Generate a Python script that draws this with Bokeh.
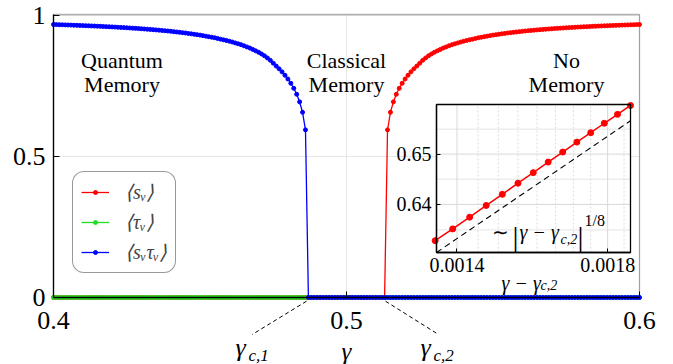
import math
from bokeh.plotting import figure
from bokeh.models import (Label, FixedTicker, Range1d, PrintfTickFormatter, LogScale, LogAxis,
                          BoxAnnotation)
from bokeh.embed import file_html
from bokeh.resources import INLINE

FONT = "Liberation Serif"
RED = "#ff0000"
GREEN = "#22dd22"
BLUE = "#0000ff"

# ---------------- data ----------------
gamma_milli = [
    400, 401, 402, 403, 404, 405, 406, 407, 408, 409, 410, 411, 412, 413, 414, 415, 416, 417, 418, 419,
    420, 421, 422, 423, 424, 425, 426, 427, 428, 429, 430, 431, 432, 433, 434, 435, 436, 437, 438, 439,
    440, 441, 442, 443, 444, 445, 446, 447, 448, 449, 450, 451, 452, 453, 454, 455, 456, 457, 458, 459,
    460, 461, 462, 463, 464, 465, 466, 467, 468, 469, 470, 471, 472, 473, 474, 475, 476, 477, 478, 479,
    480, 481, 482, 483, 484, 485, 486, 487, 488, 489, 490, 491, 492, 493, 494, 495, 496, 497, 498, 499,
    500, 501, 502, 503, 504, 505, 506, 507, 508, 509, 510, 511, 512, 513, 514, 515, 516, 517, 518, 519,
    520, 521, 522, 523, 524, 525, 526, 527, 528, 529, 530, 531, 532, 533, 534, 535, 536, 537, 538, 539,
    540, 541, 542, 543, 544, 545, 546, 547, 548, 549, 550, 551, 552, 553, 554, 555, 556, 557, 558, 559,
    560, 561, 562, 563, 564, 565, 566, 567, 568, 569, 570, 571, 572, 573, 574, 575, 576, 577, 578, 579,
    580, 581, 582, 583, 584, 585, 586, 587, 588, 589, 590, 591, 592, 593, 594, 595, 596, 597, 598, 599,
    600,
]

# <s_v>  (red)
s_v = [
    0, 0, 0, 0, 0, 0, 0, 0, 0, 0,
    0, 0, 0, 0, 0, 0, 0, 0, 0, 0,
    0, 0, 0, 0, 0, 0, 0, 0, 0, 0,
    0, 0, 0, 0, 0, 0, 0, 0, 0, 0,
    0, 0, 0, 0, 0, 0, 0, 0, 0, 0,
    0, 0, 0, 0, 0, 0, 0, 0, 0, 0,
    0, 0, 0, 0, 0, 0, 0, 0, 0, 0,
    0, 0, 0, 0, 0, 0, 0, 0, 0, 0,
    0, 0, 0, 0, 0, 0, 0, 0, 0, 0,
    0, 0, 0, 0, 0, 0, 0, 0, 0, 0,
    0, 0, 0, 0, 0, 0, 0, 0, 0, 0,
    0, 0, 0, 0, 0.5945, 0.6568, 0.6938, 0.7206, 0.7418, 0.7596,
    0.7748, 0.7881, 0.8001, 0.8109, 0.8207, 0.8310, 0.8410, 0.8495, 0.8570, 0.8636,
    0.8696, 0.8746, 0.8796, 0.8846, 0.8886, 0.8926, 0.8966, 0.8997, 0.9028, 0.9059,
    0.9090, 0.9114, 0.9138, 0.9162, 0.9186, 0.9210, 0.9229, 0.9248, 0.9267, 0.9286,
    0.9305, 0.9320, 0.9335, 0.9350, 0.9365, 0.9380, 0.9392, 0.9404, 0.9416, 0.9428,
    0.9440, 0.9450, 0.9460, 0.9470, 0.9480, 0.9490, 0.9498, 0.9506, 0.9514, 0.9522,
    0.9530, 0.9537, 0.9544, 0.9551, 0.9558, 0.9565, 0.9571, 0.9577, 0.9583, 0.9589,
    0.9595, 0.9600, 0.9605, 0.9610, 0.9615, 0.9620, 0.9625, 0.9629, 0.9634, 0.9638,
    0.9643, 0.9647, 0.9651, 0.9655, 0.9659, 0.9663, 0.9666, 0.9670, 0.9673, 0.9677,
    0.9680,
]

# <tau_v>  (green)
tau_v = [
    0, 0, 0, 0, 0, 0, 0, 0, 0, 0,
    0, 0, 0, 0, 0, 0, 0, 0, 0, 0,
    0, 0, 0, 0, 0, 0, 0, 0, 0, 0,
    0, 0, 0, 0, 0, 0, 0, 0, 0, 0,
    0, 0, 0, 0, 0, 0, 0, 0, 0, 0,
    0, 0, 0, 0, 0, 0, 0, 0, 0, 0,
    0, 0, 0, 0, 0, 0, 0, 0, 0, 0,
    0, 0, 0, 0, 0, 0, 0, 0, 0, 0,
    0, 0, 0, 0, 0, 0, 0, 0, 0, 0,
    0, 0, 0, 0, 0, 0, 0, 0, 0, 0,
    0, 0, 0, 0, 0, 0, 0, 0, 0, 0,
    0, 0, 0, 0, 0, 0, 0, 0, 0, 0,
    0, 0, 0, 0, 0, 0, 0, 0, 0, 0,
    0, 0, 0, 0, 0, 0, 0, 0, 0, 0,
    0, 0, 0, 0, 0, 0, 0, 0, 0, 0,
    0, 0, 0, 0, 0, 0, 0, 0, 0, 0,
    0, 0, 0, 0, 0, 0, 0, 0, 0, 0,
    0, 0, 0, 0, 0, 0, 0, 0, 0, 0,
    0, 0, 0, 0, 0, 0, 0, 0, 0, 0,
    0, 0, 0, 0, 0, 0, 0, 0, 0, 0,
    0,
]

# <s_v tau_v>  (blue)
s_v_tau_v = [
    0.9680, 0.9677, 0.9673, 0.9670, 0.9666, 0.9663, 0.9659, 0.9655, 0.9651, 0.9647,
    0.9643, 0.9638, 0.9634, 0.9629, 0.9625, 0.9620, 0.9615, 0.9610, 0.9605, 0.9600,
    0.9595, 0.9589, 0.9583, 0.9577, 0.9571, 0.9565, 0.9558, 0.9551, 0.9544, 0.9537,
    0.9530, 0.9522, 0.9514, 0.9506, 0.9498, 0.9490, 0.9480, 0.9470, 0.9460, 0.9450,
    0.9440, 0.9428, 0.9416, 0.9404, 0.9392, 0.9380, 0.9365, 0.9350, 0.9335, 0.9320,
    0.9305, 0.9286, 0.9267, 0.9248, 0.9229, 0.9210, 0.9186, 0.9162, 0.9138, 0.9114,
    0.9090, 0.9059, 0.9028, 0.8997, 0.8966, 0.8926, 0.8886, 0.8846, 0.8796, 0.8746,
    0.8696, 0.8636, 0.8570, 0.8495, 0.8410, 0.8310, 0.8207, 0.8109, 0.8001, 0.7881,
    0.7748, 0.7596, 0.7418, 0.7206, 0.6938, 0.6568, 0.5945, 0, 0, 0,
    0, 0, 0, 0, 0, 0, 0, 0, 0, 0,
    0, 0, 0, 0, 0, 0, 0, 0, 0, 0,
    0, 0, 0, 0, 0, 0, 0, 0, 0, 0,
    0, 0, 0, 0, 0, 0, 0, 0, 0, 0,
    0, 0, 0, 0, 0, 0, 0, 0, 0, 0,
    0, 0, 0, 0, 0, 0, 0, 0, 0, 0,
    0, 0, 0, 0, 0, 0, 0, 0, 0, 0,
    0, 0, 0, 0, 0, 0, 0, 0, 0, 0,
    0, 0, 0, 0, 0, 0, 0, 0, 0, 0,
    0, 0, 0, 0, 0, 0, 0, 0, 0, 0,
    0, 0, 0, 0, 0, 0, 0, 0, 0, 0,
    0,
]

assert len(s_v) == len(gamma_milli) == len(tau_v) == len(s_v_tau_v)
gamma = [g / 1000 for g in gamma_milli]

series_labels = ["\u27e8s\u1d65\u27e9", "\u27e8\u03c4\u1d65\u27e9", "\u27e8s\u1d65\u03c4\u1d65\u27e9"]

# inset: <s_v> against gamma - gamma_c2 (log-log)
inset_dgamma = [0.00135, 0.00139, 0.00143, 0.00147, 0.00151, 0.00155, 0.00159,
                0.00163, 0.00167, 0.00171, 0.00175, 0.00179, 0.00183, 0.00187]
inset_s_v = [0.6329, 0.6352, 0.6375, 0.6398, 0.6420, 0.6442, 0.6463,
             0.6484, 0.6504, 0.6524, 0.6543, 0.6562, 0.6580, 0.6598]
guide_dgamma = [0.001353, 0.00187]
guide_s_v = [0.6306, 0.6567]

x_ticks = [0.4, 0.5, 0.6]
y_ticks = [0, 0.5, 1]
inset_x_lim = (0.001353, 0.00187)
inset_y_lim = (0.6306, 0.6600)
inset_x_ticks = [0.0014, 0.0018]
inset_x_minor = [0.00145, 0.0015, 0.00155, 0.0016, 0.00165, 0.0017, 0.00175, 0.00185]
inset_y_ticks = [0.64, 0.65]
inset_y_minor = [0.635, 0.645, 0.655]

# ---------------- layout geometry (pixels) ----------------
W, H = 673, 364
X0_PX, PX_PER_X = 53, 2930.0     # gamma = 0.4 sits at x = 53 px
Y0_PX, PX_PER_Y = 297, 282.0     # value 0 sits at y = 297 px
INSET_L, INSET_R, INSET_T, INSET_B = 436, 630, 104, 252


def mx(px):
    return 0.4 + (px - X0_PX) / PX_PER_X


def my(py):
    return (Y0_PX - py) / PX_PER_Y


lx0, lx1 = math.log10(inset_x_lim[0]), math.log10(inset_x_lim[1])
ly0, ly1 = math.log10(inset_y_lim[0]), math.log10(inset_y_lim[1])
kx = (lx1 - lx0) / (INSET_R - INSET_L)
ky = (ly1 - ly0) / (INSET_B - INSET_T)


def ix(px):
    return 10 ** (lx0 + (px - INSET_L) * kx)


def iy(py):
    return 10 ** (ly0 + (INSET_B - py) * ky)


TOP = my(14)
X_LEFT, X_RIGHT = x_ticks[0], x_ticks[-1]

# ---------------- main figure (frame = whole canvas, axes fixed inside) ----------------
p = figure(width=W, height=H, x_range=Range1d(mx(0), mx(W)), y_range=Range1d(my(H), my(0)),
           output_backend="svg", toolbar_location=None, min_border=0)
p.outline_line_color = None
p.grid.visible = False
main_x = p.xaxis[0]
main_y = p.yaxis[0]

# grid lines limited to the data box
p.segment(x0=x_ticks, y0=[0] * len(x_ticks), x1=x_ticks, y1=[TOP] * len(x_ticks),
          line_color="#e6e6e6", line_width=1, level="underlay")
p.segment(x0=[X_LEFT] * len(y_ticks), y0=y_ticks, x1=[X_RIGHT] * len(y_ticks), y1=y_ticks,
          line_color="#e6e6e6", line_width=1, level="underlay")
p.add_layout(BoxAnnotation(left=X_LEFT, right=X_RIGHT, bottom=0, top=TOP, fill_alpha=0,
                           line_color="black", line_width=1.3, level="underlay"))

for vals, color, lab in [(s_v, RED, series_labels[0]), (tau_v, GREEN, series_labels[1]),
                         (s_v_tau_v, BLUE, series_labels[2])]:
    p.line(gamma, vals, line_color=color, line_width=1.3, legend_label=lab)
    p.scatter(gamma, vals, size=4, fill_color=color, line_color=color, legend_label=lab)

main_x.fixed_location = 0
main_y.fixed_location = X_LEFT
main_x.bounds = (X_LEFT, X_RIGHT)
main_y.bounds = (0, TOP)
main_x.ticker = FixedTicker(ticks=x_ticks, minor_ticks=[])
main_y.ticker = FixedTicker(ticks=y_ticks, minor_ticks=[])
main_y.major_label_overrides = {0: "0", 0.5: "0.5", 1: "1"}
for ax in (main_x, main_y):
    ax.major_tick_in = 6
    ax.major_tick_out = 0
    ax.minor_tick_in = 0
    ax.minor_tick_out = 0
    ax.axis_line_width = 1.3
    ax.axis_line_color = "black"
    ax.major_tick_line_color = "black"
    ax.major_label_text_font = FONT
    ax.major_label_text_font_size = "26px"
    ax.major_label_text_color = "black"
main_x.major_label_standoff = 14
main_y.major_label_standoff = 8

lg = p.legend[0]
lg.location = (72, H - 273)
lg.label_text_font = FONT
lg.label_text_font_style = "italic"
lg.label_text_font_size = "20px"
lg.glyph_width = 28
lg.glyph_height = 10
lg.label_height = 23
lg.spacing = 6
lg.padding = 8
lg.margin = 0
lg.label_standoff = 16
lg.border_line_color = "#333333"
lg.border_line_width = 1
lg.background_fill_color = "white"
lg.background_fill_alpha = 1
try:
    lg.border_radius = 12
except Exception:
    pass


def label(x, y, text, size, align="left", style="normal", rx=None, ry=None):
    kw = {}
    if rx:
        kw = dict(x_range_name=rx, y_range_name=ry)
    p.add_layout(Label(x=x, y=y, text=text, text_font=FONT, text_font_size=size,
                       text_align=align, text_baseline="alphabetic",
                       text_font_style=style, text_color="black", **kw))


label(mx(121.5), my(59.5), "Quantum", "22px", "center")
label(mx(121.5), my(83.5), "Memory", "22px", "center")
label(mx(346), my(59.5), "Classical", "22px", "center")
label(mx(346), my(83.5), "Memory", "22px", "center")
label(mx(566), my(59.5), "No", "22px", "center")
label(mx(566), my(83.5), "Memory", "22px", "center")

# critical-point labels below the axis, with dashed pointers
label(mx(346), my(351), "\u03b3", "25px", "center", "italic")
label(mx(235), my(347), "\u03b3", "26px", "left", "italic")
label(mx(248), my(355), "c,1", "17px", "left", "italic")
label(mx(420), my(347), "\u03b3", "26px", "left", "italic")
label(mx(433), my(355), "c,2", "17px", "left", "italic")
pointer_c1 = ([mx(306), mx(251.7)], [my(300.7), my(334)])
pointer_c2 = ([mx(385), mx(438)], [my(300.7), my(334)])
for px_, py_ in (pointer_c1, pointer_c2):
    p.line(px_, py_, line_color="black", line_width=1, line_dash="4 3")

# ---------------- inset (drawn on its own log-log scales) ----------------
p.extra_x_ranges = {"ix": Range1d(ix(0), ix(W))}
p.extra_y_ranges = {"iy": Range1d(iy(H), iy(0))}
p.extra_x_scales = {"ix": LogScale()}
p.extra_y_scales = {"iy": LogScale()}
R = dict(x_range_name="ix", y_range_name="iy")
x0, x1 = inset_x_lim
y0, y1 = inset_y_lim

p.quad(left=[x0], right=[x1], bottom=[y0], top=[y1], fill_color="white", line_color=None, **R)
p.segment(x0=[x0] * len(inset_y_minor), y0=inset_y_minor,
          x1=[x1] * len(inset_y_minor), y1=inset_y_minor, line_color="#e4e4e4", line_width=1, **R)
p.segment(x0=[x0] * len(inset_y_ticks), y0=inset_y_ticks,
          x1=[x1] * len(inset_y_ticks), y1=inset_y_ticks, line_color="#d8d8d8", line_width=1, **R)
p.segment(x0=inset_x_minor, y0=[y0] * len(inset_x_minor), x1=inset_x_minor,
          y1=[y1] * len(inset_x_minor), line_color="#dcdcdc", line_width=1, line_dash="2 2", **R)
p.segment(x0=inset_x_ticks, y0=[y0] * len(inset_x_ticks), x1=inset_x_ticks,
          y1=[y1] * len(inset_x_ticks), line_color="#d8d8d8", line_width=1, **R)

p.line(guide_dgamma, guide_s_v, line_color="black", line_width=1.1, line_dash="6 4", **R)
p.line(inset_dgamma, inset_s_v, line_color=RED, line_width=1.5, **R)
p.scatter(inset_dgamma, inset_s_v, size=6, fill_color=RED, line_color=RED, **R)
p.quad(left=[x0], right=[x1], bottom=[y0], top=[y1], fill_color=None, line_color="black",
       line_width=1.3, **R)

ax_ix = LogAxis(fixed_location=y0, bounds=(x0, x1),
                ticker=FixedTicker(ticks=inset_x_ticks, minor_ticks=[]),
                formatter=PrintfTickFormatter(format="%.4f"), **R)
ax_iy = LogAxis(fixed_location=x0, bounds=(y0, y1),
                ticker=FixedTicker(ticks=inset_y_ticks, minor_ticks=[]),
                formatter=PrintfTickFormatter(format="%.2f"), **R)
for ax in (ax_ix, ax_iy):
    ax.major_tick_in = 4
    ax.major_tick_out = 0
    ax.minor_tick_in = 0
    ax.minor_tick_out = 0
    ax.axis_line_width = 1.3
    ax.axis_line_color = "black"
    ax.major_label_text_font = FONT
    ax.major_label_text_font_size = "20px"
    ax.major_label_text_color = "black"
    ax.major_label_standoff = 5
p.add_layout(ax_ix, "below")
p.add_layout(ax_iy, "left")

label(ix(491), iy(231.7), "\u223c", "20px", rx="ix", ry="iy")
label(ix(512), iy(236), "|", "30px", rx="ix", ry="iy")
label(ix(519), iy(231.7), "\u03b3 \u2212 \u03b3", "20px", "left", "italic", rx="ix", ry="iy")
label(ix(560), iy(239), "c,2", "14px", "left", "italic", rx="ix", ry="iy")
label(ix(577), iy(236), "|", "30px", rx="ix", ry="iy")
label(ix(584), iy(220), "1/8", "16px", rx="ix", ry="iy")
label(ix(501), iy(282.7), "\u03b3 \u2212 \u03b3", "20px", "left", "italic", rx="ix", ry="iy")
label(ix(540), iy(285), "c,2", "14px", "left", "italic", rx="ix", ry="iy")

open("out.html", "w").write(file_html(p, INLINE))
